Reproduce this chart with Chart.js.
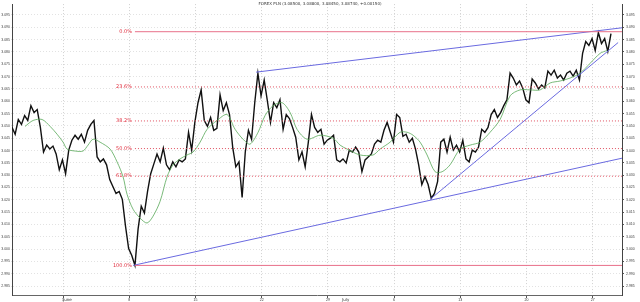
<!DOCTYPE html>
<html>
<head>
    <title>FOREX PLN</title>
    <script src="https://cdn.jsdelivr.net/npm/chart.js"></script>
    <style>
        body { margin: 0; background: #fff; }
        #wrap { width: 640px; height: 302px; }
    </style>
</head>
<body>
<div id="wrap"><canvas id="fx" width="640" height="302"></canvas></div>
<script>
    const titleText = 'FOREX PLN (3.08500, 3.08800, 3.08450, 3.08740, +0.00150)';

    // price, one value every 8 hours, day 0 = 1 June
    const priceStartDay = -5.4;
    const priceStepDay = 1 / 3;
    const priceValues = [
        3.0494, 3.0466, 3.0526, 3.0506, 3.0542, 3.0522, 3.0582, 3.0554, 3.0566, 3.0494,
        3.0394, 3.0422, 3.0406, 3.0418, 3.0386, 3.0322, 3.0362, 3.0306, 3.0402, 3.0442,
        3.0462, 3.0446, 3.0466, 3.0434, 3.0482, 3.0506, 3.0522, 3.0374, 3.0354, 3.0366,
        3.0342, 3.0282, 3.0254, 3.0226, 3.0234, 3.0202, 3.0094, 3.0002, 2.9974, 2.9934,
        3.0082, 3.0174, 3.0146, 3.0234, 3.0306, 3.0346, 3.0386, 3.0354, 3.0410, 3.0342,
        3.0322, 3.0354, 3.0334, 3.0362, 3.0354, 3.0366, 3.0474, 3.0402, 3.0514, 3.0594,
        3.0646, 3.0522, 3.0498, 3.0534, 3.0482, 3.0490, 3.0626, 3.0562, 3.0594, 3.0546,
        3.0414, 3.0334, 3.0354, 3.0210, 3.0394, 3.0482, 3.0446, 3.0594, 3.0714, 3.0622,
        3.0686, 3.0602, 3.0514, 3.0594, 3.0574, 3.0606, 3.0486, 3.0546, 3.0530, 3.0494,
        3.0454, 3.0362, 3.0394, 3.0334, 3.0434, 3.0546, 3.0494, 3.0474, 3.0486, 3.0426,
        3.0442, 3.0450, 3.0462, 3.0362, 3.0354, 3.0366, 3.0350, 3.0402, 3.0394, 3.0414,
        3.0394, 3.0314, 3.0362, 3.0374, 3.0386, 3.0426, 3.0442, 3.0434, 3.0482, 3.0514,
        3.0474, 3.0434, 3.0546, 3.0534, 3.0458, 3.0466, 3.0434, 3.0450, 3.0406, 3.0342,
        3.0262, 3.0294, 3.0262, 3.0206, 3.0226, 3.0274, 3.0434, 3.0446, 3.0394, 3.0454,
        3.0402, 3.0422, 3.0394, 3.0442, 3.0366, 3.0354, 3.0402, 3.0394, 3.0414, 3.0486,
        3.0474, 3.0494, 3.0546, 3.0566, 3.0534, 3.0554, 3.0582, 3.0606, 3.0714, 3.0694,
        3.0666, 3.0682, 3.0654, 3.0606, 3.0594, 3.0690, 3.0674, 3.0650, 3.0666, 3.0654,
        3.0722, 3.0706, 3.0726, 3.0694, 3.0706, 3.0686, 3.0714, 3.0722, 3.0702, 3.0726,
        3.0686, 3.0794, 3.0842, 3.0826, 3.0854, 3.0806, 3.0878, 3.0834, 3.0854, 3.0802,
        3.0874
    ];

    // green moving average
    const maDays = [
        -4.02, -3.17, -2.22, -1.37, -0.63, 0, 0.42, 1.27, 2.11, 2.64, 3.17, 3.91, 4.97, 5.71,
        6.34, 6.77, 7.40, 8.14, 8.88, 9.52, 10.26, 11.00, 11.63, 12.37, 13.11, 13.75, 14.49,
        15.23, 16.28, 17.34, 18.19, 19.03, 19.77, 20.62, 21.36, 22.21, 23.16, 24.01, 24.74,
        25.80, 27.18, 28.55, 29.29, 30.03, 31.41, 32.78, 33.52, 34.58, 35.63, 36.38, 37.01,
        37.75, 38.49, 39.34, 40.08, 40.92, 41.98, 43.04, 44.09, 45.15, 46.21, 47.27, 48.32,
        49.38, 50.44, 51.50, 52.55, 53.61, 54.67, 55.73, 56.78, 57.52
    ];
    const maValues = [
        3.0498, 3.0522, 3.0526, 3.0498, 3.0466, 3.0434, 3.0406, 3.0398, 3.0398, 3.0422, 3.0446,
        3.0434, 3.0406, 3.0354, 3.0294, 3.0222, 3.0162, 3.0126, 3.0106, 3.0134, 3.0194, 3.0294,
        3.0342, 3.0366, 3.0382, 3.0394, 3.0434, 3.0486, 3.0522, 3.0546, 3.0486, 3.0446, 3.0426,
        3.0474, 3.0542, 3.0582, 3.0594, 3.0554, 3.0486, 3.0446, 3.0462, 3.0450, 3.0422, 3.0406,
        3.0382, 3.0382, 3.0406, 3.0434, 3.0474, 3.0474, 3.0462, 3.0434, 3.0382, 3.0314, 3.0314,
        3.0342, 3.0406, 3.0422, 3.0434, 3.0474, 3.0526, 3.0622, 3.0646, 3.0646, 3.0646, 3.0674,
        3.0682, 3.0694, 3.0714, 3.0754, 3.0794, 3.0806
    ];

    // trend lines [start day, start value, end day, end value]
    const trendLow = [7.40, 2.9934, 59.11, 3.0369];
    const trendHigh = [20.41, 3.0718, 59.11, 3.0898];
    const trendRise = [38.81, 3.0202, 58.69, 3.0838];

    // fibonacci retracement
    const fibLabels = ['0.0%', '23.6%', '38.2%', '50.0%', '61.8%', '100.0%'];
    const fibValues = [3.0882, 3.0658, 3.0520, 3.0408, 3.0296, 2.9934];
    const fibStartDay = 7.6;

    const xTickDays = [0, 7, 14, 21, 28, 35, 42, 49, 56];
    const xTickLabels = ['1', '8', '15', '22', '29', '6', '13', '20', '27'];
    const monthLabels = ['June', 'July'];
    const monthDays = [0, 29.5];
    const yTickValues = [
        2.985, 2.990, 2.995, 3.000, 3.005, 3.010, 3.015, 3.020, 3.025, 3.030, 3.035, 3.040,
        3.045, 3.050, 3.055, 3.060, 3.065, 3.070, 3.075, 3.080, 3.085, 3.090, 3.095
    ];

    const xMin = -5.4, xMax = 59.1;
    const yMin = 2.9814, yMax = 3.0994;

    const pricePoints = priceValues.map((v, i) => ({ x: priceStartDay + i * priceStepDay, y: v }));
    const maPoints = maDays.map((d, i) => ({ x: d, y: maValues[i] }));
    const seg = t => [{ x: t[0], y: t[1] }, { x: t[2], y: t[3] }];

    const datasets = [];
    fibValues.forEach((v, i) => {
        const solid = i === 0 || i === fibValues.length - 1;
        datasets.push({
            data: [{ x: fibStartDay, y: v }, { x: xMax, y: v }],
            borderColor: solid ? '#e8708a' : '#e05060',
            borderWidth: 1,
            borderDash: solid ? [] : [1, 2],
            pointRadius: 0
        });
    });
    [trendLow, trendHigh, trendRise].forEach(t => {
        datasets.push({ data: seg(t), borderColor: '#6a6ae0', borderWidth: 1, pointRadius: 0 });
    });
    datasets.push({ data: maPoints, borderColor: '#58a858', borderWidth: 0.8, pointRadius: 0, tension: 0.3 });
    datasets.push({ data: pricePoints, borderColor: '#111', borderWidth: 1.4, pointRadius: 0 });

    const extras = {
        id: 'extras',
        afterDatasetsDraw(chart) {
            const c = chart.ctx;
            const xs = chart.scales.x, ys = chart.scales.y;
            c.save();
            c.font = '5px "DejaVu Sans"';
            c.fillStyle = '#e03040';
            c.textAlign = 'right';
            c.textBaseline = 'middle';
            fibLabels.forEach((l, i) => {
                c.fillText(l, xs.getPixelForValue(fibStartDay) - 3, ys.getPixelForValue(fibValues[i]));
            });
            c.fillStyle = '#333';
            c.font = '4px "DejaVu Sans"';
            c.textAlign = 'center';
            c.textBaseline = 'top';
            c.fillText(titleText, 320, 2);
            c.textAlign = 'left';
            c.textBaseline = 'bottom';
            monthLabels.forEach((m, i) => {
                c.fillText(m, xs.getPixelForValue(monthDays[i]), 302);
            });
            c.restore();
        }
    };

    new Chart(document.getElementById('fx'), {
        type: 'line',
        data: { datasets },
        plugins: [extras],
        options: {
            responsive: false,
            devicePixelRatio: 1,
            animation: false,
            layout: { padding: 0 },
            plugins: { legend: { display: false }, tooltip: { enabled: false } },
            scales: {
                x: {
                    type: 'linear', min: xMin, max: xMax, position: 'bottom',
                    afterBuildTicks: s => { s.ticks = xTickDays.map(v => ({ value: v })); },
                    afterFit: s => { s.height = 7; },
                    ticks: {
                        font: { size: 3.5 }, color: '#333', padding: 0, maxRotation: 0,
                        callback: (v, i) => xTickLabels[i]
                    },
                    grid: { color: '#d0d0d0', tickLength: 3, tickColor: '#555' },
                    border: { color: '#666', dash: [1, 2] }
                },
                y: {
                    min: yMin, max: yMax, position: 'left',
                    afterBuildTicks: s => { s.ticks = yTickValues.map(v => ({ value: v })); },
                    afterFit: s => { s.width = 12; },
                    ticks: { font: { size: 3.5 }, color: '#444', padding: 1, callback: v => v.toFixed(3) },
                    grid: { color: '#e2e2e2', tickLength: 1 },
                    border: { color: '#444', dash: [1, 2] }
                },
                y2: {
                    min: yMin, max: yMax, position: 'right',
                    afterBuildTicks: s => { s.ticks = yTickValues.map(v => ({ value: v })); },
                    afterFit: s => { s.width = 18; },
                    ticks: { font: { size: 3.5 }, color: '#444', padding: 2, callback: v => v.toFixed(3) },
                    grid: { drawOnChartArea: false, tickLength: 2, tickColor: '#555' },
                    border: { color: '#444' }
                }
            }
        }
    });
</script>
</body>
</html>
